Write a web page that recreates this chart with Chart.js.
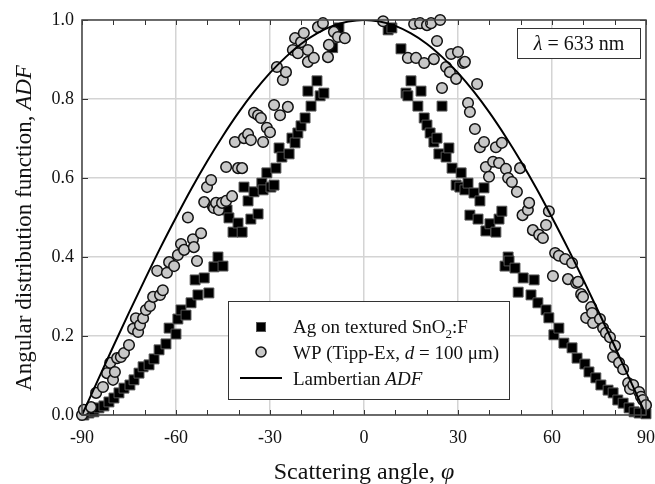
<!DOCTYPE html>
<html>
<head>
<meta charset="utf-8">
<script src="https://cdn.jsdelivr.net/npm/chart.js@4.4.1/dist/chart.umd.min.js"></script>
<style>
  html, body { margin: 0; padding: 0; background: #fff; }
</style>
</head>
<body>
<canvas id="adf-chart" width="655" height="484"></canvas>
<script>
// Ag on textured SnO2:F (squares)
const agAngle = [
  -89.4, -87.8, -86.2, -84.6, -83.0, -81.4, -79.8, -78.2, -76.6, -74.7,
  -73.4, -71.8, -70.5, -68.6, -67.0, -65.4, -63.2, -62.2, -60.0, -59.4,
  -58.4, -56.8, -55.2, -53.9, -53.0, -51.0, -49.5, -47.9, -46.6, -45.0,
  -43.7, -43.1, -41.8, -40.2, -38.9, -38.3, -37.0, -36.1, -35.1, -33.8,
  -32.6, -32.2, -31.0, -29.7, -28.7, -28.1, -27.1, -26.2, -23.9, -23.0,
  -22.0, -21.1, -20.1, -18.8, -17.9, -16.9, -15.0, -14.0, -12.8, -10.0,
  -8.0,
  7.7, 8.9, 11.8, 13.4, 14.0, 15.0, 17.2, 18.2, 19.2, 20.1,
  21.1, 22.3, 23.3, 23.9, 24.9, 26.2, 27.1, 28.1, 29.4, 30.6,
  31.0, 32.2, 33.2, 33.8, 35.1, 36.4, 37.0, 38.3, 38.9, 40.2,
  42.1, 43.1, 44.0, 45.0, 46.0, 46.3, 48.2, 49.2, 50.8, 53.3,
  54.3, 55.5, 58.1, 59.0, 60.6, 62.2, 63.8, 66.4, 68.0, 70.5,
  71.8, 74.0, 75.6, 77.9, 79.5, 81.0, 82.7, 84.6, 86.2, 87.8,
  90.0
];
const agValue = [
  0.000, 0.005, 0.008, 0.018, 0.023, 0.033, 0.043, 0.056, 0.068, 0.076,
  0.089, 0.106, 0.122, 0.127, 0.142, 0.165, 0.180, 0.220, 0.205, 0.243,
  0.266, 0.253, 0.284, 0.342, 0.304, 0.347, 0.309, 0.375, 0.400, 0.377,
  0.519, 0.499, 0.463, 0.486, 0.463, 0.577, 0.542, 0.496, 0.565, 0.509,
  0.587, 0.570, 0.613, 0.577, 0.582, 0.625, 0.676, 0.653, 0.661, 0.701,
  0.689, 0.714, 0.732, 0.752, 0.820, 0.782, 0.846, 0.808, 0.815, 0.930,
  0.980,
  0.975, 0.980, 0.927, 0.815, 0.808, 0.846, 0.782, 0.820, 0.752, 0.734,
  0.714, 0.691, 0.701, 0.661, 0.782, 0.653, 0.676, 0.625, 0.582, 0.577,
  0.613, 0.570, 0.587, 0.506, 0.562, 0.496, 0.542, 0.575, 0.466, 0.484,
  0.463, 0.496, 0.516, 0.377, 0.400, 0.390, 0.372, 0.311, 0.347, 0.304,
  0.342, 0.284, 0.266, 0.246, 0.203, 0.220, 0.182, 0.170, 0.144, 0.129,
  0.109, 0.094, 0.076, 0.063, 0.056, 0.038, 0.030, 0.018, 0.008, 0.005,
  0.003
];

// WP (Tipp-Ex, d = 100 um) (circles)
const wpAngle = [
  -90.0, -89.4, -87.1, -85.5, -83.3, -82.0, -81.0, -80.1, -79.5, -78.8,
  -77.6, -76.6, -75.0, -73.7, -72.8, -72.1, -71.5, -70.5, -69.6, -68.3,
  -67.3, -66.0, -65.1, -64.2, -62.9, -62.2, -60.6, -59.4, -58.4, -57.4,
  -56.2, -54.6, -54.3, -53.3, -52.0, -51.0, -50.1, -48.8, -48.2, -47.9,
  -47.2, -46.3, -45.3, -44.0, -44.0, -42.1, -41.2, -40.2, -38.9, -38.3,
  -37.0, -36.1, -35.1, -33.8, -32.9, -32.2, -31.0, -30.0, -28.7, -27.8,
  -26.8, -25.9, -24.9, -24.3, -22.7, -22.0, -21.1, -20.1, -19.2, -17.9,
  -17.9, -16.0, -14.7, -13.1, -11.5, -11.2, -9.6, -8.3, -6.1,
  6.1, 14.0, 16.0, 16.6, 17.9, 19.2, 20.1, 21.4, 22.3, 23.3,
  24.3, 24.9, 26.2, 27.4, 27.8, 29.4, 30.0, 31.6, 32.2, 33.2,
  33.8, 35.4, 36.1, 37.0, 38.3, 38.9, 39.9, 41.2, 42.1, 43.1,
  44.0, 45.3, 46.0, 47.2, 48.8, 49.8, 50.6, 52.3, 52.7, 53.9,
  55.9, 57.1, 58.1, 59.0, 60.3, 61.0, 62.2, 64.2, 65.1, 66.4,
  67.7, 68.3, 69.3, 69.9, 70.9, 72.5, 72.8, 73.1, 75.3, 76.3,
  77.2, 78.5, 79.5, 80.1, 81.4, 82.7, 84.3, 84.9, 85.9, 87.8,
  88.4, 89.0, 90.0
];
const wpValue = [
  0.000, 0.013, 0.020, 0.056, 0.071, 0.106, 0.132, 0.089, 0.109, 0.144,
  0.147, 0.157, 0.177, 0.218, 0.245, 0.210, 0.228, 0.245, 0.266, 0.276,
  0.299, 0.365, 0.304, 0.316, 0.360, 0.387, 0.377, 0.405, 0.433, 0.418,
  0.500, 0.445, 0.425, 0.390, 0.460, 0.539, 0.577, 0.595, 0.527, 0.524,
  0.537, 0.519, 0.537, 0.542, 0.628, 0.554, 0.691, 0.625, 0.625, 0.701,
  0.711, 0.696, 0.765, 0.759, 0.752, 0.691, 0.727, 0.716, 0.785, 0.881,
  0.759, 0.848, 0.868, 0.780, 0.924, 0.954, 0.916, 0.944, 0.967, 0.924,
  0.894, 0.904, 0.982, 0.992, 0.906, 0.937, 0.970, 0.957, 0.954,
  0.997, 0.904, 0.990, 0.904, 0.992, 0.891, 0.987, 0.992, 0.901, 0.947,
  1.000, 0.828, 0.881, 0.868, 0.914, 0.851, 0.919, 0.891, 0.894, 0.790,
  0.767, 0.724, 0.838, 0.678, 0.691, 0.628, 0.603, 0.641, 0.678, 0.638,
  0.689, 0.623, 0.600, 0.590, 0.565, 0.625, 0.506, 0.519, 0.537, 0.468,
  0.456, 0.448, 0.481, 0.516, 0.352, 0.410, 0.403, 0.395, 0.344, 0.385,
  0.334, 0.337, 0.306, 0.299, 0.246, 0.273, 0.258, 0.233, 0.243, 0.220,
  0.208, 0.197, 0.147, 0.175, 0.132, 0.116, 0.081, 0.066, 0.076, 0.058,
  0.046, 0.038, 0.025
];

// Lambertian ADF, every 5 degrees
const lambAngle = [
  -90, -85, -80, -75, -70, -65, -60, -55, -50, -45, -40, -35, -30, -25, -20, -15, -10, -5,
  0, 5, 10, 15, 20, 25, 30, 35, 40, 45, 50, 55, 60, 65, 70, 75, 80, 85, 90
];
const lambValue = [
  0.000, 0.087, 0.174, 0.259, 0.342, 0.423, 0.500, 0.574, 0.643, 0.707, 0.766, 0.819, 0.866, 0.906, 0.940, 0.966, 0.985, 0.996,
  1.000, 0.996, 0.985, 0.966, 0.940, 0.906, 0.866, 0.819, 0.766, 0.707, 0.643, 0.574, 0.500, 0.423, 0.342, 0.259, 0.174, 0.087, 0.000
];

const xTickValues = [-90, -60, -30, 0, 30, 60, 90];
const xMinorTicks = [-80, -70, -50, -40, -20, -10, 10, 20, 40, 50, 70, 80];
const yTickValues = [0, 0.2, 0.4, 0.6, 0.8, 1.0];

const serif = '"Liberation Serif", "DejaVu Serif", serif';

const toPoints = (xs, ys) => xs.map((x, i) => ({ x: x, y: ys[i] }));

// draw a run of text pieces, some italic, some subscript
function drawRich(ctx, parts, x, y, size) {
  let cx = x;
  parts.forEach((p) => {
    const fs = p.sub ? Math.round(size * 0.7) : size;
    ctx.font = (p.italic ? "italic " : "") + fs + "px " + serif;
    ctx.fillText(p.t, cx, p.sub ? y + size * 0.25 : y);
    cx += ctx.measureText(p.t).width;
  });
  return cx - x;
}

function richWidth(ctx, parts, size) {
  let w = 0;
  parts.forEach((p) => {
    const fs = p.sub ? Math.round(size * 0.7) : size;
    ctx.font = (p.italic ? "italic " : "") + fs + "px " + serif;
    w += ctx.measureText(p.t).width;
  });
  return w;
}

const decorPlugin = {
  id: "decor",
  afterDraw(chart) {
    const ctx = chart.ctx;
    const area = chart.chartArea;
    const xs = chart.scales.x;
    const ys = chart.scales.y;
    ctx.save();

    // inward ticks
    ctx.strokeStyle = "#333";
    ctx.lineWidth = 1;
    ctx.beginPath();
    xTickValues.concat(xMinorTicks).forEach((v) => {
      const px = Math.round(xs.getPixelForValue(v)) + 0.5;
      ctx.moveTo(px, area.bottom);
      ctx.lineTo(px, area.bottom - 5);
      ctx.moveTo(px, area.top);
      ctx.lineTo(px, area.top + 5);
    });
    yTickValues.forEach((v) => {
      const py = Math.round(ys.getPixelForValue(v)) + 0.5;
      ctx.moveTo(area.left, py);
      ctx.lineTo(area.left + 6, py);
      ctx.moveTo(area.right, py);
      ctx.lineTo(area.right - 6, py);
    });
    ctx.stroke();

    // frame
    ctx.strokeStyle = "#444";
    ctx.lineWidth = 1.5;
    ctx.strokeRect(area.left, area.top, area.right - area.left, area.bottom - area.top);

    ctx.fillStyle = "#111";
    ctx.textBaseline = "alphabetic";

    // x title
    const xTitle = [{ t: "Scattering angle, " }, { t: "\u03c6", italic: true }];
    const xw = richWidth(ctx, xTitle, 24);
    drawRich(ctx, xTitle, 364 - xw / 2, 479, 24);

    // y title
    const yTitle = [{ t: "Angular distribution function, " }, { t: "ADF", italic: true }];
    const yw = richWidth(ctx, yTitle, 23);
    ctx.save();
    ctx.translate(31, 228);
    ctx.rotate(-Math.PI / 2);
    drawRich(ctx, yTitle, -yw / 2, 0, 23);
    ctx.restore();

    // lambda box
    ctx.fillStyle = "#fff";
    ctx.fillRect(517, 28, 123, 30);
    ctx.strokeStyle = "#333";
    ctx.lineWidth = 1;
    ctx.strokeRect(517.5, 28.5, 123, 30);
    ctx.fillStyle = "#111";
    const lam = [{ t: "\u03bb", italic: true }, { t: " = 633 nm" }];
    const lw = richWidth(ctx, lam, 20);
    drawRich(ctx, lam, 579 - lw / 2, 50, 20);

    // legend box
    ctx.fillStyle = "#fff";
    ctx.fillRect(228, 301, 281, 98);
    ctx.strokeStyle = "#333";
    ctx.strokeRect(228.5, 301.5, 281, 98);

    ctx.fillStyle = "#000";
    ctx.strokeStyle = "#555";
    ctx.lineWidth = 1;
    ctx.fillRect(256, 322, 10, 10);
    ctx.strokeRect(256.5, 322.5, 9, 9);

    ctx.beginPath();
    ctx.arc(261, 352, 5, 0, Math.PI * 2);
    ctx.fillStyle = "#c8c8c8";
    ctx.fill();
    ctx.strokeStyle = "#111";
    ctx.lineWidth = 1.5;
    ctx.stroke();

    ctx.beginPath();
    ctx.moveTo(240, 378);
    ctx.lineTo(282, 378);
    ctx.strokeStyle = "#000";
    ctx.lineWidth = 2;
    ctx.stroke();

    ctx.fillStyle = "#111";
    drawRich(ctx, [{ t: "Ag on textured SnO" }, { t: "2", sub: true }, { t: ":F" }], 293, 333, 19);
    drawRich(ctx, [{ t: "WP (Tipp-Ex, " }, { t: "d", italic: true }, { t: " = 100 \u03bcm)" }], 293, 359, 19);
    drawRich(ctx, [{ t: "Lambertian " }, { t: "ADF", italic: true }], 293, 385, 19);

    ctx.restore();
  },
};

const adfChart = new Chart(document.getElementById("adf-chart"), {
  type: "scatter",
  data: {
    datasets: [
      {
        label: "Lambertian ADF",
        type: "line",
        data: toPoints(lambAngle, lambValue),
        borderColor: "#000",
        borderWidth: 2,
        pointRadius: 0,
        cubicInterpolationMode: "monotone",
        fill: false,
      },
      {
        label: "WP (Tipp-Ex, d = 100 \u03bcm)",
        data: toPoints(wpAngle, wpValue),
        pointStyle: "circle",
        pointRadius: 5.3,
        backgroundColor: "#c8c8c8",
        borderColor: "#111",
        borderWidth: 1.5,
        clip: false,
      },
      {
        label: "Ag on textured SnO2:F",
        data: toPoints(agAngle, agValue),
        pointStyle: "rect",
        pointRadius: 7,
        backgroundColor: "#000",
        borderColor: "#555",
        borderWidth: 1,
        clip: false,
      },
    ],
  },
  options: {
    responsive: false,
    animation: false,
    layout: { padding: { top: 20, right: 0, left: 0, bottom: 0 } },
    plugins: {
      legend: { display: false },
      tooltip: { enabled: false },
    },
    scales: {
      x: {
        type: "linear",
        min: -90,
        max: 90,
        afterFit: (scale) => {
          scale.height = 69;
          scale.paddingLeft = 0;
          scale.paddingRight = 9;
        },
        afterBuildTicks: (scale) => { scale.ticks = xTickValues.map((v) => ({ value: v })); },
        ticks: {
          color: "#111",
          padding: 12,
          font: { family: serif, size: 18 },
          callback: (v) => String(v),
        },
        grid: { color: "#d4d4d4", lineWidth: 1.5, drawTicks: false },
        border: { display: false },
      },
      y: {
        min: 0,
        max: 1,
        afterFit: (scale) => { scale.width = 82; },
        afterBuildTicks: (scale) => { scale.ticks = yTickValues.map((v) => ({ value: v })); },
        ticks: {
          color: "#111",
          padding: 8,
          font: { family: serif, size: 18 },
          callback: (v) => Number(v).toFixed(1),
        },
        grid: { color: "#d4d4d4", lineWidth: 1.5, drawTicks: false },
        border: { display: false },
      },
    },
  },
  plugins: [decorPlugin],
});
</script>
</body>
</html>
